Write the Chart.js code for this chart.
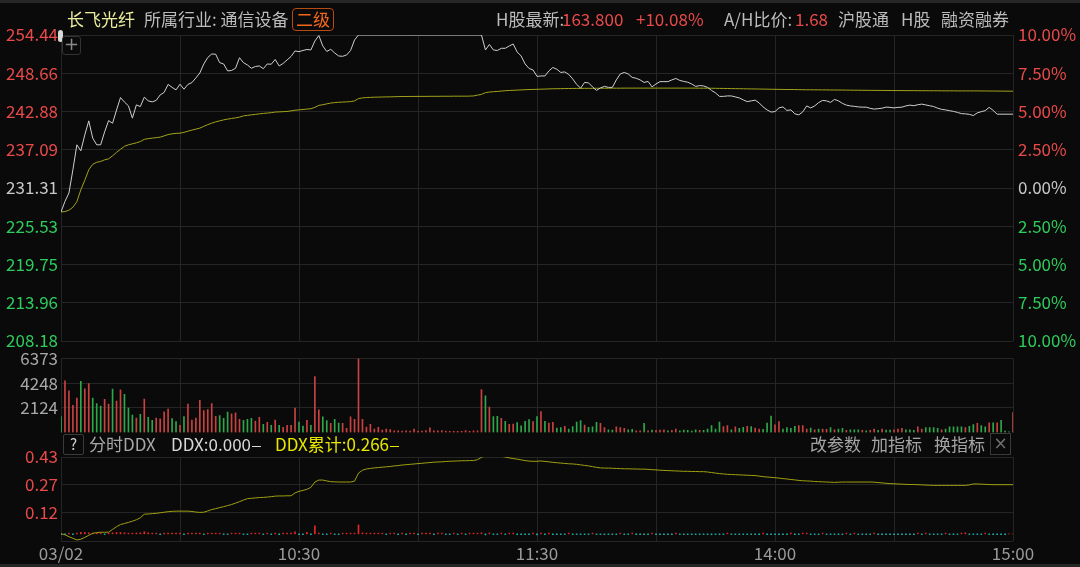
<!DOCTYPE html>
<html><head><meta charset="utf-8">
<script src="https://cdn.jsdelivr.net/npm/chart.js@4.4.1/dist/chart.umd.min.js"></script>
<style>
html,body{margin:0;padding:0;background:#0a0a0a;width:1080px;height:567px;overflow:hidden;font-family:"Noto Sans CJK SC","Noto Sans",sans-serif;}
.layer{position:absolute;left:0;}
canvas{display:block;}
.t{position:absolute;white-space:nowrap;font-size:17px;line-height:20px;color:#bcbcbc;}
.dash{display:inline-block;width:9px;height:1px;vertical-align:middle;margin-left:1px;}
</style></head><body>
<div style="position:absolute;left:0;top:0;width:1080px;height:3px;background:#262626"></div>
<div style="position:absolute;left:0;top:564px;width:1080px;height:3px;background:#262626"></div>

<div class="layer" style="top:0"><canvas id="cPrice" width="1080" height="360"></canvas></div>
<div class="layer" style="top:330px"><canvas id="cVol" width="1080" height="120"></canvas></div>
<div class="layer" style="top:430px"><canvas id="cDdx" width="1080" height="134"></canvas></div>

<!-- header -->
<div class="t" style="left:67px;top:9px;color:#ecec9e">长飞光纤</div>
<div class="t" style="left:144px;top:9px">所属行业: 通信设备</div>
<div style="position:absolute;left:292px;top:8px;width:40px;height:21px;border:1px solid #b84a14;border-radius:4px;"></div>
<div class="t" style="left:296px;top:9px;color:#f0661c">二级</div>
<div class="t" style="left:496px;top:9px">H股最新:</div>
<div class="t" style="left:562px;top:9px;color:#e84a4a">163.800</div>
<div class="t" style="left:636px;top:9px;color:#e84a4a">+10.08%</div>
<div class="t" style="left:724px;top:9px">A/H比价:</div>
<div class="t" style="left:795px;top:9px;color:#e84a4a">1.68</div>
<div class="t" style="left:838px;top:9px">沪股通</div>
<div class="t" style="left:901px;top:9px">H股</div>
<div class="t" style="left:941px;top:9px">融资融券</div>

<!-- small icons on price panel -->
<div style="position:absolute;left:58px;top:30px;width:5px;height:12px;background:#d8d8d8;border-radius:3px;"></div>
<div style="position:absolute;left:62px;top:36px;width:17px;height:17px;border:1px solid #333;border-radius:3px;"></div>
<div class="t" style="left:63px;top:34px;width:17px;text-align:center;font-size:18px;color:#8a8a8a;font-family:'DejaVu Sans'">+</div>

<!-- DDX header -->
<div style="position:absolute;left:63px;top:434px;width:19px;height:19px;border:1px solid #3a3a3a;border-radius:2px;"></div>
<div class="t" style="left:63px;top:434px;width:21px;text-align:center;font-size:15px;color:#d0d0d0">?</div>
<div class="t" style="left:89px;top:434px;color:#a8a8a8">分时DDX</div>
<div class="t" style="left:171px;top:434px;color:#d8d8d8">DDX:0.000<span class="dash" style="background:#d8d8d8"></span></div>
<div class="t" style="left:275px;top:434px;color:#e6e600">DDX累计:0.266<span class="dash" style="background:#e6e600"></span></div>
<div class="t" style="left:810px;top:434px;color:#a4a4a4">改参数</div>
<div class="t" style="left:871px;top:434px;color:#a4a4a4">加指标</div>
<div class="t" style="left:934px;top:434px;color:#a4a4a4">换指标</div>
<div style="position:absolute;left:990px;top:433px;width:19px;height:20px;border:1px solid #3a3a3a;"></div>
<div class="t" style="left:990px;top:433px;width:21px;text-align:center;font-size:17px;color:#707070;font-family:'DejaVu Sans'">×</div>

<script>
const FONT = '"Noto Sans CJK SC","Noto Sans",sans-serif';
const RED = '#e84a4a', GREEN = '#2ecc5c', NEUTRAL = '#c8c8c8', GRID = '#252525';

// time axis (minutes since 9:30, lunch break collapsed)
const minuteTicks = [0, 30, 60, 90, 120, 150, 180, 210, 240];
const timeLabelMinutes = [0, 60, 120, 180, 240];
const timeLabels = ['03/02', '10:30', '11:30', '14:00', '15:00'];

// price panel ticks
const priceTicks = [208.18, 213.96, 219.75, 225.53, 231.31, 237.09, 242.88, 248.66, 254.44];
const priceTickLabels = ['208.18', '213.96', '219.75', '225.53', '231.31', '237.09', '242.88', '248.66', '254.44'];
const pctTickLabels = ['10.00%', '7.50%', '5.00%', '2.50%', '0.00%', '2.50%', '5.00%', '7.50%', '10.00%'];
const tickTone = ['g', 'g', 'g', 'g', 'n', 'r', 'r', 'r', 'r'];

// minute price
const priceValues = [
227.68,229.28,230.55,234.07,237.84,236.93,239.35,241.46,238.85,237.84,
237.84,239.80,241.50,241.10,243.10,244.98,244.30,243.73,241.87,243.87,
243.62,245.04,244.48,244.33,244.55,245.38,245.76,246.97,246.52,246.14,
247.00,246.24,246.97,247.24,247.95,248.70,250.06,251.04,251.57,251.53,
250.26,250.06,249.01,249.08,249.41,251.01,250.26,249.91,249.41,249.68,
249.76,249.35,250.06,250.02,250.74,249.76,250.14,250.67,251.20,252.03,
251.92,252.10,252.25,252.18,253.53,254.36,252.78,251.95,252.28,251.72,
251.27,251.22,251.42,252.10,253.69,254.44,254.44,254.44,254.44,254.44,
254.44,254.44,254.44,254.44,254.44,254.44,254.44,254.44,254.44,254.44,
254.44,254.44,254.44,254.44,254.44,254.44,254.44,254.44,254.44,254.44,
254.44,254.44,254.44,254.44,254.44,254.44,254.44,252.18,253.01,252.18,
252.10,252.43,252.43,252.78,253.08,251.87,251.27,250.06,249.38,249.16,
248.18,
248.25,248.25,249.01,249.53,249.26,248.78,248.86,248.48,247.80,246.97,
246.40,247.27,247.20,246.59,246.06,246.44,246.67,246.52,246.52,247.65,
248.55,248.78,248.55,248.03,247.90,247.65,247.27,247.42,246.59,247.04,
247.39,247.39,247.39,247.65,247.87,247.57,247.42,247.30,247.04,246.67,
246.79,246.74,246.52,246.06,245.69,245.16,245.16,245.23,245.23,245.08,
244.93,244.63,244.37,244.48,244.59,244.18,243.57,243.12,242.79,242.86,
243.42,243.57,243.04,243.12,242.52,242.37,242.82,243.72,243.42,243.72,
244.22,244.55,244.48,244.25,244.70,244.48,244.10,243.84,243.72,243.65,
243.57,243.53,243.53,243.35,243.24,243.30,243.38,243.54,243.50,243.42,
243.50,243.53,243.72,243.84,243.75,243.90,243.99,243.87,243.75,243.62,
243.38,243.20,243.12,243.00,242.89,242.74,242.55,242.52,242.44,242.26,
242.67,242.85,243.01,243.50,243.04,242.47,242.47,242.47,242.47,242.47
];

// average price
const avgValues = [
227.68,227.75,227.95,228.40,229.23,231.04,232.48,234.07,234.89,235.20,
235.32,235.57,235.72,236.18,236.70,237.16,237.61,237.84,237.99,238.14,
238.33,238.67,238.77,238.85,238.92,239.00,239.19,239.39,239.50,239.57,
239.60,239.72,239.90,240.06,240.21,240.36,240.63,240.89,241.11,241.31,
241.46,241.61,241.72,241.82,241.91,242.02,242.21,242.29,242.37,242.44,
242.52,242.58,242.64,242.70,242.79,242.82,242.85,242.88,242.97,243.07,
243.12,243.18,243.24,243.30,243.50,243.80,243.90,244.03,244.15,244.22,
244.27,244.30,244.33,244.37,244.48,244.83,244.93,244.98,245.01,245.04,
245.05,245.07,245.08,245.09,245.11,245.13,245.14,245.14,245.15,245.15,
245.16,245.16,245.16,245.17,245.17,245.17,245.18,245.18,245.18,245.19,
245.19,245.19,245.19,245.20,245.23,245.35,245.46,245.73,245.81,245.87,
245.91,245.96,246.02,246.05,246.08,246.11,246.14,246.17,246.20,246.21,
246.23,
246.25,246.27,246.29,246.31,246.32,246.33,246.34,246.35,246.36,246.37,
246.37,246.38,246.38,246.38,246.39,246.39,246.39,246.39,246.40,246.40,
246.40,246.41,246.41,246.41,246.41,246.41,246.41,246.41,246.41,246.41,
246.41,246.41,246.41,246.41,246.41,246.41,246.41,246.41,246.41,246.41,
246.40,246.40,246.40,246.39,246.38,246.37,246.36,246.35,246.34,246.33,
246.32,246.31,246.30,246.29,246.28,246.27,246.26,246.25,246.24,246.23,
246.22,246.21,246.20,246.20,246.19,246.18,246.17,246.16,246.16,246.15,
246.15,246.14,246.14,246.13,246.13,246.12,246.12,246.11,246.10,246.09,
246.09,246.08,246.08,246.07,246.07,246.06,246.06,246.05,246.05,246.04,
246.04,246.04,246.03,246.03,246.03,246.02,246.02,246.02,246.01,246.01,
246.01,246.00,246.00,246.00,246.00,245.99,245.99,245.99,245.99,245.99,
245.99,245.98,245.98,245.97,245.97,245.96,245.96,245.95,245.95,245.94
];

// minute volume and direction (r = up, g = down)
const volValues = [
1370,4460,3580,2330,2970,4400,3760,4220,2970,2480,
2270,2850,2450,3730,2710,3670,3290,2100,1490,1250,
1570,2880,1310,1050,1250,1170,1780,2010,1190,930,
610,1370,2450,1080,1250,2770,1890,1980,2480,1400,
1460,1220,1750,1600,1690,1140,1050,1140,1220,990,
1310,700,870,610,1080,610,440,610,610,2100,
900,550,1050,610,4810,1950,1340,1020,790,1140,
820,790,350,1340,1140,6373,1140,470,700,290,
440,200,290,260,150,150,120,150,120,290,
120,120,175,400,150,150,175,120,100,100,
100,100,175,100,150,150,3700,3150,2190,1370,
1400,1220,960,700,730,850,580,960,1110,930,
1370,
1800,960,810,870,390,420,540,300,510,900,
1020,630,450,480,870,780,420,240,210,480,
420,360,240,270,150,150,780,150,210,180,
210,240,150,180,300,150,210,180,120,240,
180,180,300,600,300,900,510,600,240,480,
360,450,540,510,390,300,270,810,1410,660,
930,300,420,360,540,600,600,300,390,240,
300,300,270,420,240,300,360,180,240,240,
240,180,150,180,300,180,300,210,210,240,
300,360,240,240,180,480,300,420,420,420,
360,240,300,480,480,480,480,420,540,690,
780,600,480,840,840,840,1050,120,60,1710
];
const volDir = (
'grrrrgrrgg' + 'grrgrrgggr' + 'grggrrrrgg' + 'rgrrrrrrrr' + 'gggrrrgggr' +
'rgrgrgrrrr' + 'ggrgrrggrg' + 'grrrrrrrrr' + 'rrrrrrrrrr' + 'rrrrrrrrrr' +
'rrrrrrrgrg' + 'grgrrggggr' + 'g' +
'rgrrggrggg' + 'grgggrrggr' + 'rrggrrgrgr' + 'rrgrrggggg' + 'rgggggrrgr' +
'ggrgrrgggr' + 'rggggrrrgr' + 'grrgrggrgg' + 'grgrrgrggr' + 'rrgggrrggg' +
'grgggggrgg' + 'rggrgrgggr').split('');
const volTicks = [2124, 4248, 6373];
const volTickLabels = ['2124', '4248', '6373'];

// DDX
const ddxTicks = [-0.04, 0.12, 0.275, 0.43];
const ddxTickLabels = ['', '0.12', '0.27', '0.43'];
const ddxCumValues = [
0.000,-0.005,-0.016,-0.025,-0.034,-0.030,-0.020,-0.008,0.003,0.007,
0.009,0.009,0.009,0.025,0.040,0.052,0.058,0.064,0.071,0.079,
0.090,0.110,0.111,0.113,0.115,0.118,0.121,0.124,0.126,0.127,
0.127,0.127,0.127,0.125,0.122,0.120,0.121,0.128,0.136,0.141,
0.147,0.152,0.158,0.164,0.172,0.180,0.189,0.197,0.199,0.201,
0.203,0.204,0.206,0.208,0.211,0.212,0.212,0.213,0.213,0.229,
0.238,0.243,0.249,0.260,0.290,0.301,0.301,0.296,0.292,0.291,
0.290,0.290,0.290,0.290,0.295,0.340,0.356,0.363,0.366,0.369,
0.371,0.373,0.375,0.377,0.380,0.382,0.385,0.387,0.389,0.391,
0.393,0.395,0.397,0.399,0.401,0.402,0.403,0.405,0.406,0.407,
0.408,0.409,0.409,0.410,0.410,0.415,0.428,0.437,0.437,0.437,
0.436,0.434,0.430,0.425,0.421,0.418,0.414,0.410,0.407,0.406,
0.406,
0.408,0.405,0.403,0.400,0.398,0.396,0.394,0.392,0.391,0.389,
0.386,0.383,0.380,0.376,0.372,0.369,0.368,0.368,0.367,0.366,
0.365,0.364,0.364,0.363,0.363,0.362,0.362,0.361,0.359,0.358,
0.356,0.355,0.354,0.353,0.352,0.351,0.350,0.350,0.349,0.349,
0.348,0.348,0.346,0.343,0.340,0.337,0.335,0.333,0.332,0.331,
0.330,0.329,0.328,0.327,0.326,0.323,0.320,0.318,0.316,0.314,
0.312,0.309,0.307,0.304,0.302,0.299,0.297,0.296,0.295,0.293,
0.292,0.291,0.290,0.289,0.288,0.289,0.290,0.290,0.290,0.290,
0.290,0.290,0.290,0.290,0.289,0.287,0.285,0.283,0.281,0.280,
0.279,0.278,0.277,0.276,0.276,0.275,0.274,0.273,0.272,0.271,
0.271,0.271,0.271,0.271,0.271,0.271,0.271,0.271,0.274,0.279,
0.279,0.278,0.277,0.276,0.275,0.275,0.275,0.275,0.275,0.275
];
const ddxBarValues = [
-0.004,-0.004,0.004,-0.004,0.005,0.008,0.008,0.006,0.004,0.004,
0.004,-0.004,0.004,0.006,0.008,0.008,0.006,0.004,0.004,0.005,
0.006,0.012,0.006,0.004,0.004,-0.004,0.004,0.004,0.004,0.004,
0.004,-0.004,0.004,0.004,0.005,0.004,-0.004,0.004,0.004,0.004,
0.004,-0.004,-0.004,0.004,0.004,0.004,-0.004,-0.004,0.004,0.004,
0.004,-0.004,0.004,-0.004,0.004,-0.004,0.004,0.004,0.004,0.012,
-0.004,-0.004,0.008,-0.004,0.045,0.005,-0.004,-0.004,0.004,-0.004,
-0.004,0.004,0.004,0.004,0.004,0.050,0.006,0.004,0.004,0.004,
0.004,0.004,-0.004,0.004,0.004,-0.004,0.004,-0.004,0.004,0.004,
-0.004,0.004,0.004,0.004,-0.004,0.004,0.004,-0.004,-0.004,0.004,
-0.004,0.004,-0.004,0.004,0.004,0.004,0.006,-0.006,0.005,-0.004,
-0.004,0.004,-0.004,0.004,0.004,-0.004,-0.004,-0.004,-0.004,0.004,
-0.006,
0.005,-0.004,0.004,-0.004,-0.004,-0.004,-0.004,0.004,-0.004,-0.004,
-0.004,-0.004,-0.004,0.004,-0.004,-0.004,-0.004,-0.004,-0.004,-0.004,
0.004,-0.004,-0.004,0.004,-0.004,-0.004,-0.004,-0.004,0.004,-0.004,
-0.004,-0.004,-0.004,-0.004,0.004,-0.004,-0.004,-0.004,-0.004,-0.004,
-0.004,-0.004,-0.004,-0.005,-0.004,-0.004,-0.004,0.004,-0.004,-0.004,
-0.004,-0.004,-0.004,-0.004,-0.004,-0.004,0.004,-0.004,-0.004,-0.004,
-0.004,-0.004,-0.004,0.004,-0.004,-0.004,0.004,0.004,-0.004,-0.004,
-0.004,0.004,-0.004,-0.004,-0.004,-0.004,-0.004,0.004,-0.004,0.004,
-0.004,-0.004,-0.004,-0.004,0.004,-0.004,-0.004,-0.004,-0.004,-0.004,
-0.004,-0.004,-0.004,-0.004,-0.004,0.004,-0.004,0.004,-0.004,-0.004,
-0.004,-0.004,0.004,-0.004,-0.004,-0.004,0.004,0.006,-0.004,-0.004,
-0.004,-0.004,0.004,-0.004,-0.004,-0.004,-0.004,-0.004,0.000,0.000
];

const toneColor = t => t === 'r' ? RED : (t === 'g' ? GREEN : NEUTRAL);
const pts = arr => arr.map((v, i) => ({ x: i, y: v }));

function xAxis(withLabels) {
  return {
    type: 'linear', min: 0, max: 240, offset: false,
    afterBuildTicks(s) { s.ticks = minuteTicks.map(v => ({ value: v })); },
    afterFit(s) { s.height = withLabels ? 23 : 0; },
    grid: { color: GRID, lineWidth: 1, drawTicks: false, offset: false },
    border: { display: false },
    ticks: {
      display: withLabels, autoSkip: false, maxRotation: 0, minRotation: 0, padding: 2,
      color: '#9a9a9a', font: { size: 17, family: FONT },
      callback(v) { const k = timeLabelMinutes.indexOf(v); return k >= 0 ? timeLabels[k] : ''; }
    }
  };
}
const baseOpts = {
  responsive: false, animation: false, events: [],
  plugins: { legend: { display: false }, tooltip: { enabled: false } }
};

// price chart
new Chart(document.getElementById('cPrice'), {
  type: 'line',
  data: { datasets: [
    { data: pts(priceValues), borderColor: '#cfcfcf', borderWidth: 1, pointRadius: 0, tension: 0, order: 0 },
    { data: pts(avgValues), borderColor: '#a3a31c', borderWidth: 1, pointRadius: 0, tension: 0, order: 1 }
  ]},
  options: Object.assign({}, baseOpts, {
    layout: { padding: { top: 35, bottom: 19, left: 0, right: 0 } },
    scales: {
      x: xAxis(false),
      y: {
        position: 'left', min: 208.18, max: 254.44,
        afterBuildTicks(s) { s.ticks = priceTicks.map(v => ({ value: v })); },
        afterFit(s) { s.width = 61; },
        grid: { color: GRID, drawTicks: false }, border: { display: false },
        ticks: { padding: 3, font: { size: 17, family: FONT }, color: c => toneColor(tickTone[c.index]), callback: (v, i) => priceTickLabels[i] }
      },
      y2: {
        position: 'right', min: 208.18, max: 254.44,
        afterBuildTicks(s) { s.ticks = priceTicks.map(v => ({ value: v })); },
        afterFit(s) { s.width = 67; },
        grid: { display: false, drawTicks: false }, border: { display: false },
        ticks: { padding: 5, font: { size: 17, family: FONT }, color: c => toneColor(tickTone[c.index]), callback: (v, i) => pctTickLabels[i] }
      }
    }
  })
});

// volume chart
new Chart(document.getElementById('cVol'), {
  type: 'bar',
  data: { datasets: [{
    data: pts(volValues), backgroundColor: volDir.map(d => d === 'r' ? '#c94141' : '#2ea64a'),
    barThickness: 1, borderWidth: 0
  }]},
  options: Object.assign({}, baseOpts, {
    layout: { padding: { top: 28.5, bottom: 17.5, left: 0, right: 67 } },
    scales: {
      x: xAxis(false),
      y: {
        position: 'left', min: 0, max: 6373,
        afterBuildTicks(s) { s.ticks = volTicks.map(v => ({ value: v })); },
        afterFit(s) { s.width = 61; },
        grid: { color: GRID, drawTicks: false }, border: { display: false },
        ticks: { padding: 3, font: { size: 17, family: FONT }, color: '#a8a8a8', callback: (v, i) => volTickLabels[i] }
      }
    }
  })
});

// DDX chart
new Chart(document.getElementById('cDdx'), {
  data: { datasets: [
    { type: 'line', data: pts(ddxCumValues), borderColor: '#a0a012', borderWidth: 1, pointRadius: 0, tension: 0, order: 0 },
    { type: 'bar', data: pts(ddxBarValues), backgroundColor: ddxBarValues.map(v => v >= 0 ? '#e02828' : '#1fb5b5'), barThickness: 1, borderWidth: 0, order: 1 }
  ]},
  options: Object.assign({}, baseOpts, {
    layout: { padding: { top: 27, bottom: 0, left: 0, right: 67 } },
    scales: {
      x: xAxis(true),
      y: {
        position: 'left', min: -0.04, max: 0.43,
        afterBuildTicks(s) { s.ticks = ddxTicks.map(v => ({ value: v })); },
        afterFit(s) { s.width = 61; },
        grid: { color: GRID, drawTicks: false }, border: { display: false },
        ticks: { padding: 3, font: { size: 17, family: FONT }, color: RED, callback: (v, i) => ddxTickLabels[i] }
      }
    }
  })
});
</script>
</body></html>
